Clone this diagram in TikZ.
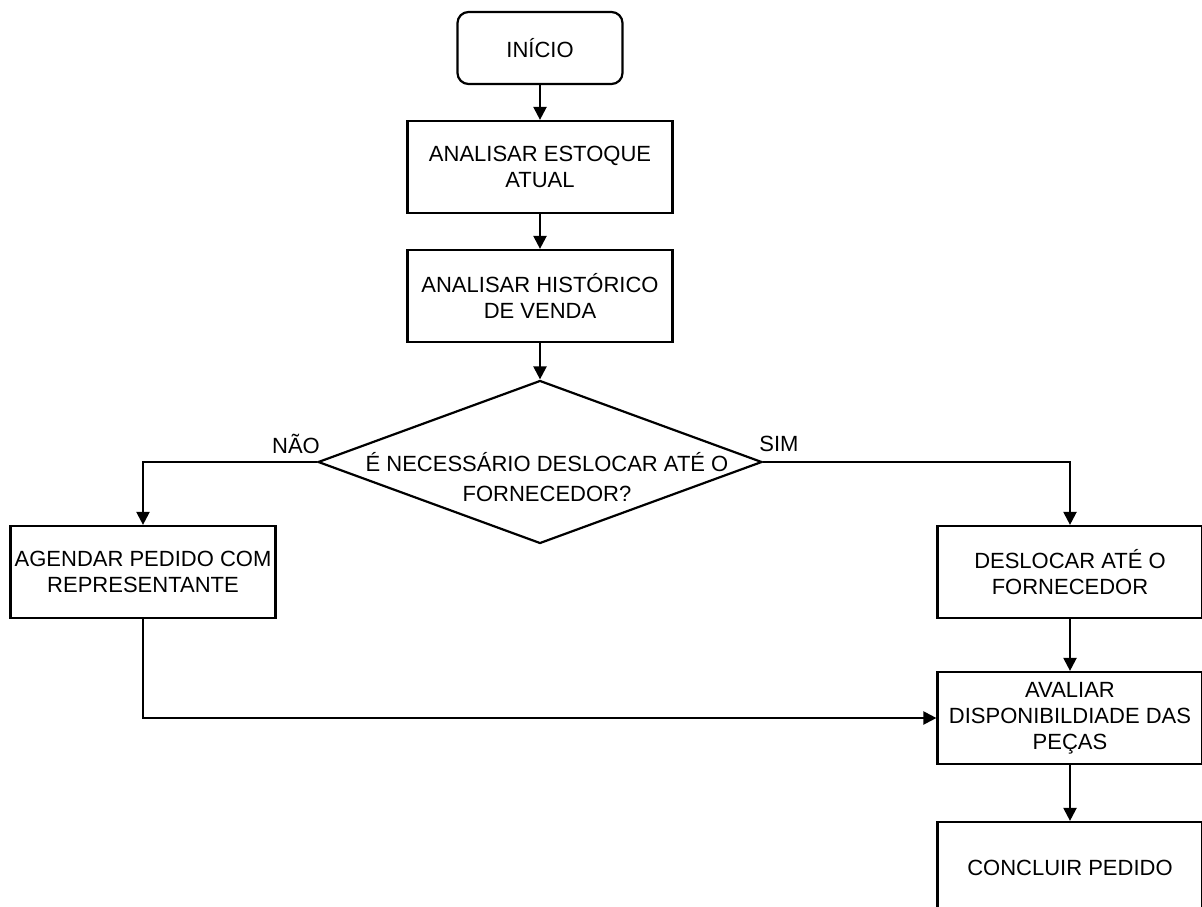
\documentclass[tikz,border=0pt]{standalone}
\usepackage{fontspec}
\setmainfont{Liberation Sans}
\usetikzlibrary{arrows.meta,shapes.geometric}
\begin{document}
\begin{tikzpicture}[x=1pt,y=-1pt,
  every node/.style={font=\fontsize{22}{26}\selectfont, text=black},
  proc/.style={draw=black, line width=2.2pt, rectangle, minimum width=265pt, minimum height=92pt, align=center, inner sep=0pt, fill=white},
  startbox/.style={draw=black, line width=2.2pt, rectangle, rounded corners=11pt, minimum width=165pt, minimum height=72pt, align=center, inner sep=0pt},
  dia/.style={draw=black, line width=2.2pt, diamond, minimum width=444pt, minimum height=163pt, inner sep=0pt},
  conn/.style={draw=black, line width=2.2pt, -{Triangle[length=13pt,width=13pt]}},
  lbl/.style={inner sep=0pt}
]
\useasboundingbox (0,0) rectangle (1202,907);
\node[startbox] (start) at (540,48) {INÍCIO};
\node[proc] (est) at (540,167) {ANALISAR ESTOQUE\\ATUAL};
\node[proc] (hist) at (540,296) {ANALISAR HISTÓRICO\\DE VENDA};
\node[dia] (dec) at (540,462) {};
\node[align=center, inner sep=0pt, font=\fontsize{22}{29.5}\selectfont] (dectext) at (547,477) {É NECESSÁRIO DESLOCAR ATÉ O\\FORNECEDOR?};
\node[proc] (ag) at (143,572) {AGENDAR PEDIDO COM\\REPRESENTANTE};
\node[proc] (desl) at (1070,572) {DESLOCAR ATÉ O\\FORNECEDOR};
\node[proc] (aval) at (1070,718) {AVALIAR\\DISPONIBILDIADE DAS\\PEÇAS};
\node[proc] (conc) at (1070,868) {CONCLUIR PEDIDO};
\node[lbl] (nao) at (296,444) {NÃO};
\node[lbl] (sim) at (779,444) {SIM};
\draw[conn] (start) -- (est);
\draw[conn] (est) -- (hist);
\draw[conn] (hist) -- (dec.north);
\draw[conn] (dec.west) -| (ag.north);
\draw[conn] (dec.east) -| (desl.north);
\draw[conn] (desl) -- (aval);
\draw[conn] (ag.south) |- (aval.west);
\draw[conn] (aval) -- (conc);
\end{tikzpicture}
\end{document}
